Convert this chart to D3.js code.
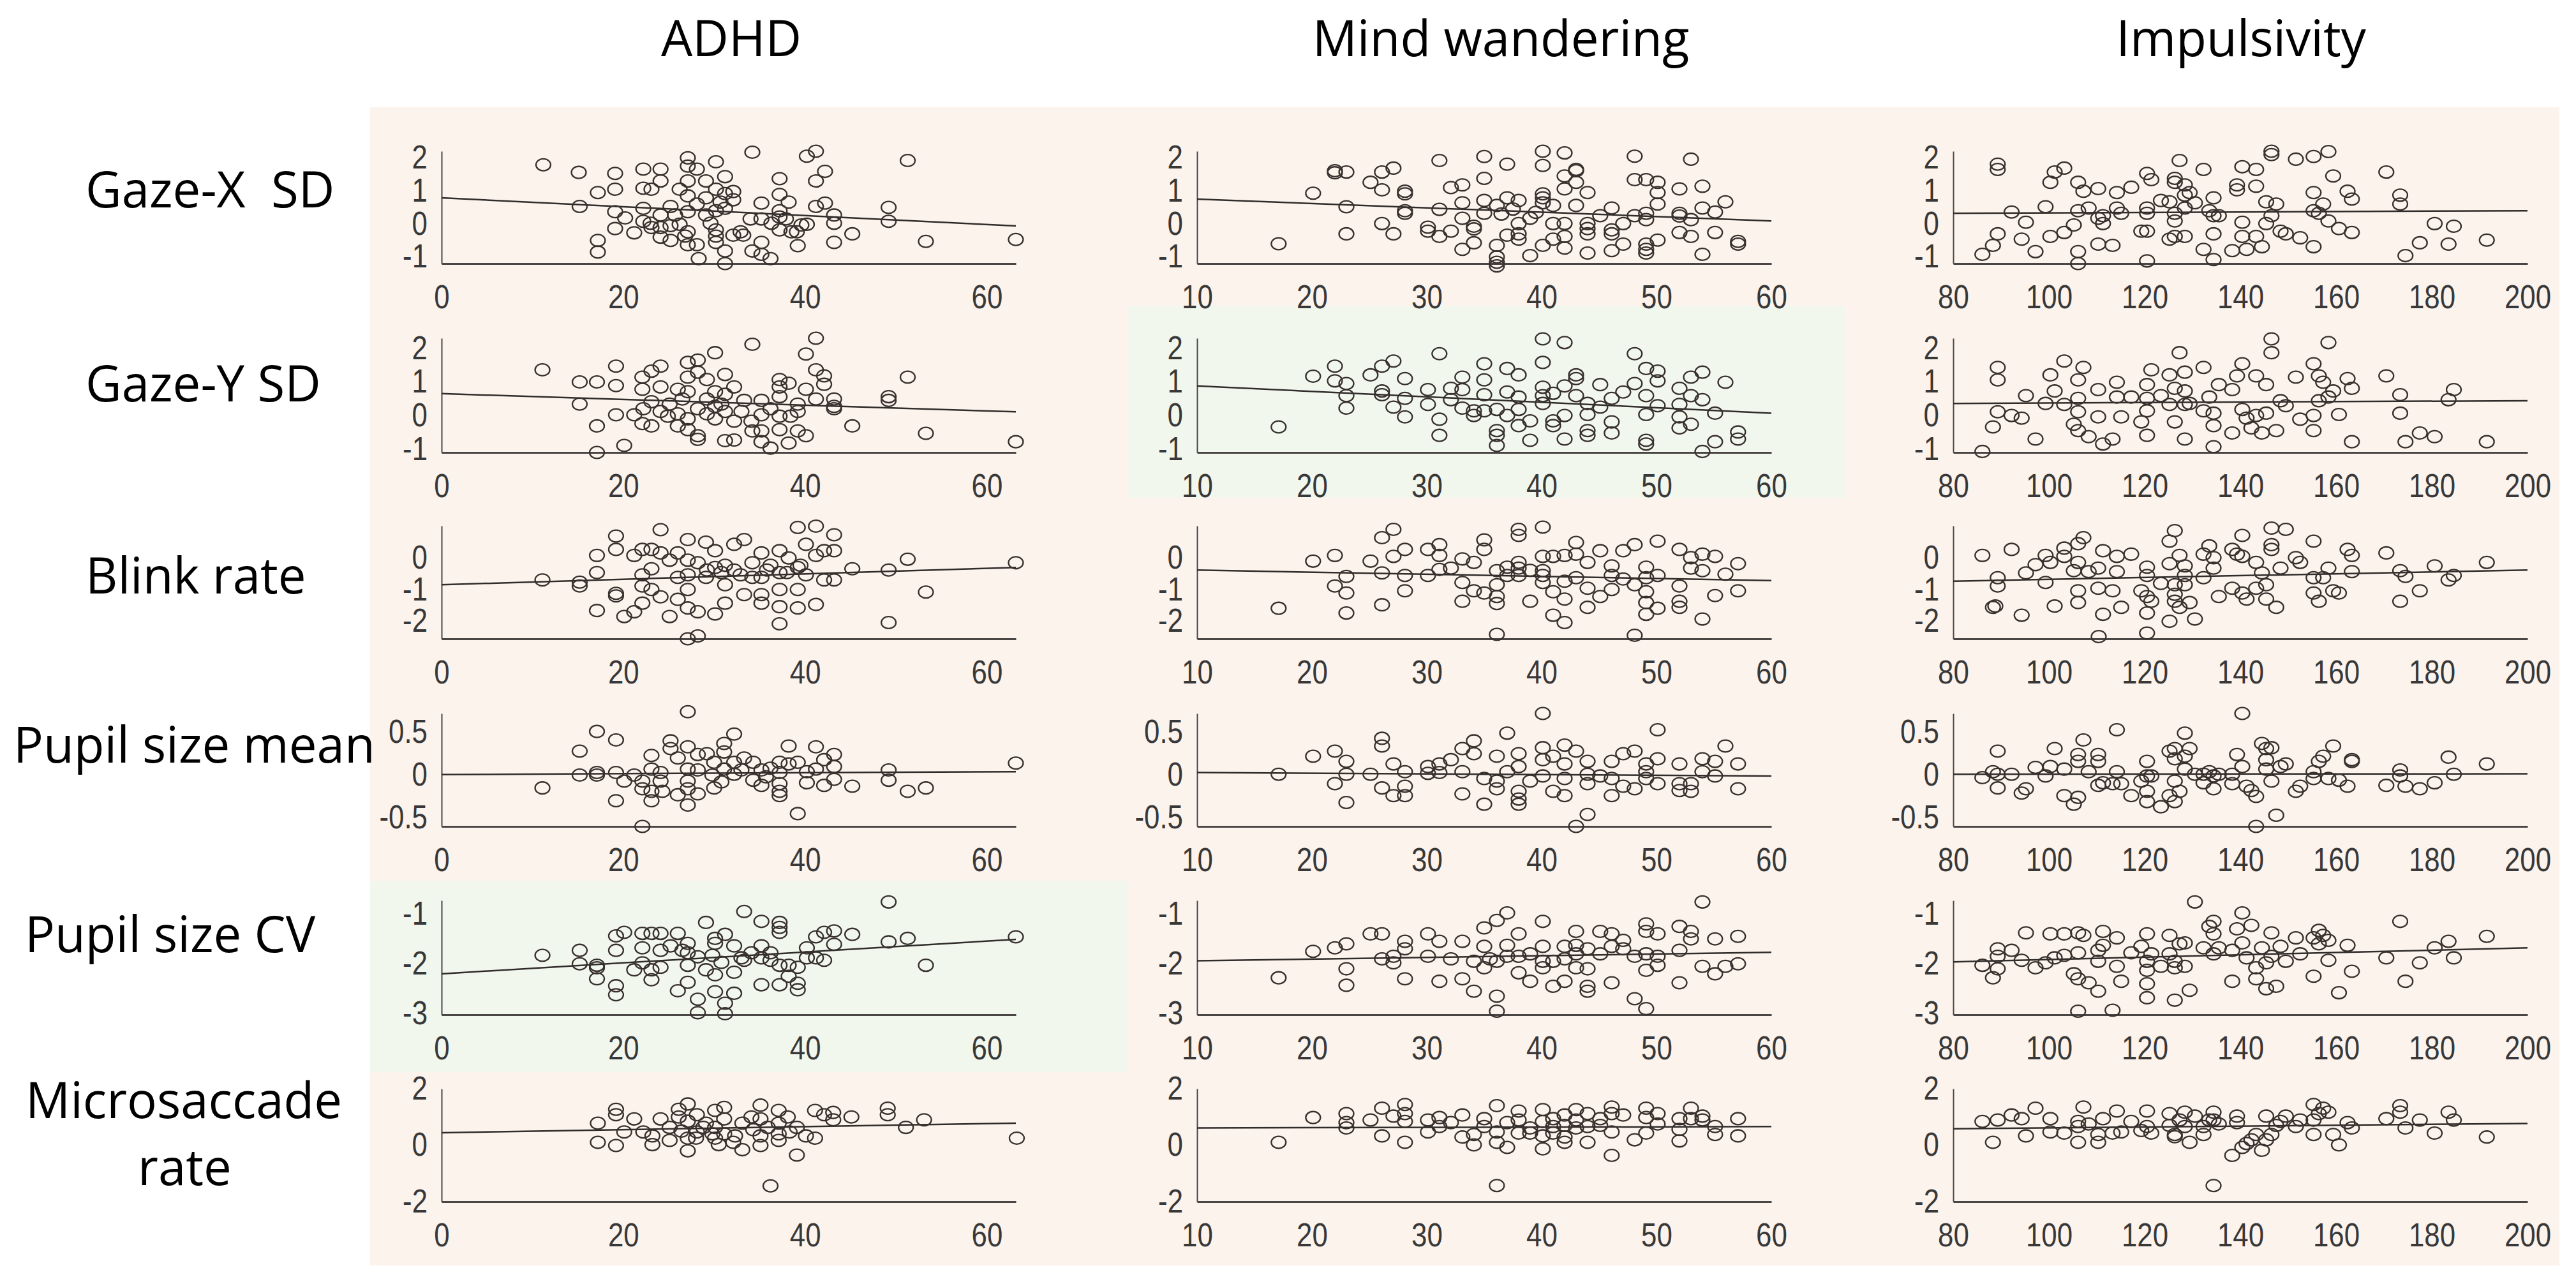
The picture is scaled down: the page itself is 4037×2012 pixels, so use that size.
<!DOCTYPE html>
<html><head><meta charset="utf-8">
<script src="https://cdn.jsdelivr.net/npm/d3@7"></script>
<style>
body{margin:0;background:#fff}
svg{display:block}
.lbl{font-family:"Open Sans","Noto Sans",sans-serif;fill:#000;white-space:pre}
.tick text{font-family:"Liberation Sans",Arial,sans-serif;fill:#383838}
</style></head><body>
<svg id="chart" width="4037" height="2012"></svg>
<script>
// ---------- categories / ticks ----------
const columns = ["ADHD", "Mind wandering", "Impulsivity"];
const rowLabels = [["Gaze-X  SD"], ["Gaze-Y SD"], ["Blink rate"], ["Pupil size mean"], ["Pupil size CV"], ["Microsaccade", "rate"]];
const xDomains = [[0, 63.2], [10, 60], [80, 200]];
const xTicks = [[0, 20, 40, 60], [10, 20, 30, 40, 50, 60], [80, 100, 120, 140, 160, 180, 200]];
const yDomains = [[-1.2, 2.2], [-1.1, 2.3], [-2.55, 1.0], [-0.6, 0.72], [-3.02, -0.73], [-2, 2]];
const yTicks = [[-1, 0, 1, 2], [-1, 0, 1, 2], [-2, -1, 0], [-0.5, 0, 0.5], [-3, -2, -1], [-2, 0, 2]];

// ---------- series: [score, z-value] ----------
const gazeX_ADHD = [[11.2,1.79],[15.1,1.56],[15.2,0.53],[17.2,0.95],[17.2,-0.5],[17.2,-0.85],[19.1,1.53],[19.1,1.05],[19.1,0.37],[19.1,-0.14],[20.2,0.18],[21.2,-0.27],[22.2,1.66],[22.2,1.08],[22.2,0.47],[22.2,0.08],[23.1,1.05],[23.1,-0.11],[23,0.02],[24.1,1.66],[24.1,1.3],[24.1,0.27],[24.1,-0.4],[24.1,-0.11],[25.2,0.53],[25.2,-0.05],[25.2,-0.5],[25.7,0.27],[26.2,1.05],[26.2,-0.01],[26.8,-0.37],[27.1,2.0],[27.1,1.75],[27.1,1.3],[27.1,0.85],[27.1,0.37],[27.1,-0.24],[27.1,-0.63],[28.1,1.66],[28.1,0.6],[28.1,-0.63],[28.3,-1.05],[29.1,1.3],[29.1,0.79],[29.1,0.27],[29.6,0.02],[30.2,1.88],[30.2,1.05],[30.2,0.4],[30.2,-0.18],[30.2,-0.37],[30.2,-0.56],[30.7,0.66],[31.2,1.43],[31.2,0.92],[31.2,0.47],[31.2,-0.82],[31.2,-1.2],[32.1,0.98],[32.1,0.73],[32.1,-0.34],[32.9,-0.24],[33.2,-0.34],[34,0.15],[34.2,2.17],[34.2,-0.82],[35.2,0.63],[35.2,0.15],[35.2,-0.56],[35.2,-0.92],[36.2,-1.05],[36.3,0.02],[37.2,1.37],[37.2,0.89],[37.2,0.4],[37.2,0.21],[37.2,-0.18],[37.9,0.15],[38.2,0.66],[38.5,-0.24],[39.1,-0.24],[39.2,-0.66],[39.6,-0.03],[40.2,2.05],[40.2,-0.01],[41.2,2.2],[41.2,1.3],[41.2,0.53],[42.2,1.59],[42.2,0.63],[43.2,0.27],[43.2,0.02],[43.2,-0.56],[45.2,-0.3],[49.2,0.5],[49.2,0.08],[51.3,1.92],[53.3,-0.53],[63.2,-0.47]];
const gazeY_ADHD = [[11.1,1.36],[15.2,1.0],[15.2,0.34],[17.1,1.0],[17.1,-0.31],[17.1,-1.1],[19.2,1.47],[19.2,0.89],[19.2,0.02],[20.1,-0.89],[21.2,0.02],[22.1,1.14],[22.1,0.78],[22.1,-0.24],[22.2,0.2],[23.1,1.32],[23.1,0.41],[23.1,-0.31],[24.1,1.47],[24.1,0.85],[24.1,0.12],[24.9,-0.02],[25.1,0.34],[26,0.78],[26,0.05],[26,-0.31],[26.5,0.49],[27.1,1.58],[27.1,1.14],[27.1,0.71],[27.1,-0.1],[27.1,-0.42],[28.2,1.65],[28.2,1.29],[28.2,0.2],[28.2,-0.6],[28.2,-0.71],[29.2,1.07],[29.2,0.49],[29.2,0.05],[30.1,1.87],[30.1,0.71],[30.1,0.27],[30.1,-0.1],[30.8,0.34],[31.2,1.22],[31.2,0.63],[31.2,0.12],[31.2,-0.75],[32.2,0.85],[32.2,-0.17],[32.2,-0.73],[33,0.12],[33.3,0.45],[34.1,-0.17],[34.2,2.12],[34.2,-0.46],[35.2,0.45],[35.2,0.02],[35.2,-0.46],[35.2,-0.78],[36.2,0.2],[36.2,-0.97],[37.2,1.07],[37.2,0.85],[37.2,0.56],[37.2,-0.02],[37.2,-0.42],[38.2,0.96],[38.2,-0.82],[38.4,-0.02],[39.2,0.34],[39.2,0.12],[39.2,-0.46],[40.1,1.83],[40.1,0.78],[40.1,-0.6],[41.2,2.3],[41.2,1.36],[41.2,0.49],[42.1,1.18],[42.1,0.93],[43.2,0.49],[43.2,0.27],[43.2,0.2],[45.2,-0.31],[49.2,0.56],[49.2,0.45],[51.3,1.14],[53.3,-0.53],[63.2,-0.78]];
const blink_ADHD = [[11.1,-0.7],[15.2,-0.77],[15.2,-0.89],[17.1,0.07],[17.1,-0.47],[17.1,-1.66],[19.2,0.68],[19.2,0.26],[19.2,-1.12],[19.2,-1.2],[20.1,-1.85],[21.2,-1.7],[21.2,0.07],[22.1,0.26],[22.1,-0.54],[22.1,-0.89],[22.1,-1.43],[23.1,0.26],[23.1,-0.35],[23.1,-1.0],[24.1,0.88],[24.1,0.15],[24.1,-1.23],[25.1,-0.08],[25.1,-1.85],[26,0.15],[26,-0.62],[26,-1.31],[27.1,0.57],[27.1,-0.08],[27.1,-0.54],[27.1,-1.0],[27.1,-1.58],[27.1,-2.55],[28.2,-2.46],[28.2,-0.16],[28.2,-1.7],[29.1,0.49],[29.1,-0.62],[29.2,-0.39],[30.1,0.22],[30.1,-0.31],[30.1,-1.77],[30.8,-0.47],[31.2,-0.24],[31.2,-0.85],[31.2,-1.43],[32.2,0.42],[32.2,-0.39],[32.9,-0.54],[33.3,0.57],[33.3,-1.16],[34.2,-0.16],[34.2,-0.62],[35.2,0.15],[35.2,-0.62],[35.2,-1.16],[35.2,-1.43],[35.8,-0.39],[36.2,-0.24],[37.2,0.22],[37.2,-0.47],[37.2,-1.0],[37.2,-1.54],[37.2,-2.08],[38.0,-0.47],[38.2,-0.01],[39.2,-0.31],[39.2,-1.0],[39.2,-1.58],[39.2,0.95],[39.5,-0.24],[40.1,0.42],[40.1,-0.54],[41.2,0.99],[41.2,0.07],[41.2,-1.47],[42.1,0.22],[42.1,-0.7],[43.2,0.72],[43.2,0.22],[43.2,-0.7],[45.2,-0.35],[49.2,-0.39],[49.2,-2.04],[51.3,-0.05],[53.3,-1.08],[63.2,-0.16]];
const pupilMean_ADHD = [[11.1,-0.15],[15.2,0.28],[15.2,0.0],[17.1,0.51],[17.1,0.03],[17.1,0.0],[19.2,0.41],[19.2,0.03],[19.2,-0.3],[20.1,-0.07],[21.2,0.0],[22.1,-0.07],[22.1,-0.16],[22.1,-0.6],[23.1,0.23],[23.1,0.07],[23.1,-0.19],[23.1,-0.3],[24.1,0.03],[24.1,-0.07],[24.3,-0.19],[25.2,0.4],[25.2,0.31],[26,0.2],[26,-0.23],[27.1,0.74],[27.1,0.33],[27.1,0.07],[27.1,-0.07],[27.1,-0.16],[27.1,-0.35],[28.2,0.24],[28.2,0.06],[28.2,-0.22],[29.2,0.25],[29.8,0.0],[30,0.15],[30,-0.15],[30.8,-0.08],[31.1,0.37],[31.1,0.27],[31.1,0.07],[32.2,0.48],[32.2,0.15],[32.2,0.01],[33,0.06],[33.3,0.2],[34.3,0.15],[34.3,-0.06],[35.2,0.06],[35.2,-0.12],[35.7,-0.02],[36.2,0.08],[37.2,0.15],[37.2,0.03],[37.2,-0.1],[37.2,-0.19],[37.2,-0.24],[38.2,0.34],[38.2,0.13],[39.2,0.15],[39.2,-0.45],[40.2,0.04],[40.2,-0.09],[41.2,0.33],[41.2,0.07],[42.1,0.18],[42.1,-0.12],[43.2,0.24],[43.2,0.1],[43.2,-0.05],[45.2,-0.13],[49.2,0.06],[49.2,-0.06],[51.3,-0.19],[53.3,-0.15],[63.2,0.14]];
const pupilCV_ADHD = [[11.1,-1.83],[15.2,-1.73],[15.2,-2.0],[17.1,-2.03],[17.1,-2.08],[17.1,-2.3],[19.2,-1.44],[19.2,-1.73],[19.2,-2.44],[19.2,-2.62],[20.1,-1.37],[21.2,-2.12],[22.1,-1.39],[22.1,-1.68],[22.1,-1.98],[23.1,-1.39],[23.1,-2.12],[23.1,-2.32],[24.1,-1.39],[24.1,-1.73],[24.1,-2.07],[25.2,-1.64],[26,-1.39],[26,-2.54],[26.5,-1.73],[27.1,-1.59],[27.1,-1.78],[27.1,-2.03],[27.1,-2.37],[28.2,-2.98],[28.2,-2.71],[28.2,-1.86],[29.1,-1.17],[29.1,-2.12],[29.8,-1.83],[30.1,-1.49],[30.1,-1.59],[30.1,-2.22],[30.1,-2.56],[30.8,-1.97],[31.2,-1.41],[31.2,-2.79],[31.2,-3.0],[32.2,-1.64],[32.2,-2.17],[32.2,-2.59],[33,-1.88],[33.3,-0.95],[33.3,-1.93],[34.1,-1.78],[35.2,-1.15],[35.2,-1.64],[35.2,-1.88],[35.2,-2.42],[36.2,-1.78],[36.2,-1.93],[37.2,-1.17],[37.2,-1.27],[37.2,-1.37],[37.2,-2.03],[37.2,-2.42],[38.2,-2.03],[38.2,-2.25],[39.2,-2.07],[39.2,-2.39],[39.2,-2.52],[40.2,-1.68],[40.2,-1.88],[41.2,-1.46],[41.2,-1.88],[42.1,-1.37],[42.1,-1.93],[43.2,-1.34],[43.2,-1.61],[45.2,-1.41],[49.2,-0.76],[49.2,-1.56],[51.3,-1.49],[53.3,-2.03],[63.2,-1.46]];
const microsacc_ADHD = [[17.2,0.78],[17.2,0.1],[19.2,1.27],[19.2,1.08],[19.2,-0.01],[20.1,0.47],[21.2,0.93],[22.2,0.47],[23.2,0.33],[23.2,0.02],[24.1,0.93],[25.1,0.63],[25.1,0.17],[26.1,1.27],[26.1,1.0],[26.4,0.5],[27.1,1.46],[27.1,0.85],[27.1,0.25],[27.1,-0.2],[28.0,0.25],[28.1,1.08],[28.1,0.47],[28.8,0.63],[29.1,0.78],[29.8,0.4],[30.1,1.23],[30.1,0.63],[30.1,0.25],[30.5,0.02],[31.1,1.34],[31.1,0.93],[31.1,0.4],[32.1,0.1],[32.3,0.33],[33.1,0.78],[33.1,-0.16],[34.1,1.0],[34.3,0.55],[35.1,1.42],[35.1,0.93],[35.1,0.33],[35.1,-0.01],[35.9,0.63],[36.2,-1.44],[37.1,1.23],[37.1,0.78],[37.1,0.4],[37.1,0.17],[38.1,1.0],[38.3,0.47],[39.1,-0.35],[39.1,0.63],[40.1,0.33],[41.1,1.23],[41.1,0.25],[42.1,1.08],[43.1,1.16],[43.1,0.9],[45.1,1.0],[49.1,1.31],[49.1,1.08],[51.1,0.63],[53.1,0.9],[63.3,0.25]];

const gazeX_MW = [[17.1,-0.6],[20.1,0.93],[22.0,1.61],[22.0,1.55],[23.0,1.57],[23.0,0.52],[23.0,-0.3],[25.1,1.26],[26.1,1.57],[26.1,1.03],[26.1,0.01],[27.1,1.69],[27.1,-0.3],[28.1,0.99],[28.1,0.91],[28.1,0.4],[28.1,0.32],[30.1,-0.1],[30.1,-0.22],[31.1,1.92],[31.1,0.44],[31.1,-0.38],[32.1,1.1],[32.1,-0.22],[33.1,1.18],[33.1,0.64],[33.1,0.17],[33.1,-0.77],[34.1,-0.07],[34.1,-0.15],[34.1,-0.57],[35.0,2.04],[35.0,1.38],[35.0,0.71],[35.0,0.32],[36.1,-0.65],[36.1,-1.0],[36.1,-1.16],[36.1,-1.27],[36.1,0.56],[36.5,0.3],[37.0,1.81],[37.0,0.79],[37.0,-0.34],[37.5,0.45],[38.0,0.71],[38.0,0.01],[38.0,-0.3],[38.0,-0.46],[39.0,0.17],[39.0,-0.96],[39.5,0.35],[40.1,2.2],[40.1,1.77],[40.1,0.91],[40.1,0.79],[40.1,0.64],[40.1,-0.65],[41.0,0.56],[41.0,0.01],[41.0,-0.46],[42.0,2.15],[42.0,1.45],[42.0,1.06],[42.0,0.01],[42.0,-0.38],[42.0,-0.73],[43.0,1.65],[43.0,1.61],[43.0,1.26],[43.0,0.56],[44.0,0.95],[44.0,0.01],[44.0,-0.14],[44.0,-0.3],[44.0,-0.88],[45.1,0.25],[46.1,0.48],[46.1,-0.18],[46.1,-0.3],[46.1,-0.81],[47.1,0.01],[47.1,-0.61],[48.1,2.05],[48.1,1.34],[48.1,0.25],[49.1,1.34],[49.1,0.32],[49.1,0.13],[49.1,-0.61],[49.1,-0.77],[49.1,-0.88],[50.1,1.26],[50.1,0.95],[50.1,0.6],[50.1,-0.49],[52.0,1.06],[52.0,0.32],[52.0,0.24],[52.0,-0.26],[53.0,1.96],[53.0,0.13],[53.0,-0.38],[54.0,1.14],[54.0,0.48],[54.0,-0.92],[55.1,0.36],[55.1,-0.26],[56.0,0.67],[57.1,-0.53],[57.1,-0.61]];
const gazeY_MW = [[17.1,-0.34],[20.1,1.17],[22.0,1.47],[22.0,1.03],[23.0,0.95],[23.0,0.59],[23.0,0.22],[25.1,1.21],[26.1,1.47],[26.1,0.73],[26.1,0.62],[27.1,1.62],[27.1,0.25],[28.1,1.1],[28.1,0.51],[28.1,-0.04],[30.1,0.77],[30.1,0.33],[31.1,1.84],[31.1,-0.11],[31.1,-0.59],[32.1,0.81],[32.1,0.47],[33.1,1.14],[33.1,0.77],[33.1,0.22],[34.1,0.14],[34.1,0.0],[35.0,1.54],[35.0,1.06],[35.0,0.62],[35.0,0.14],[36.1,0.18],[36.1,-0.45],[36.1,-0.59],[36.1,-0.89],[37.0,1.4],[37.0,0.7],[37.0,0.0],[38.0,1.21],[38.0,0.55],[38.0,0.18],[38.0,-0.3],[39.0,-0.16],[39.0,-0.74],[40.1,2.28],[40.1,1.58],[40.1,0.84],[40.1,0.59],[40.1,0.36],[41.0,0.66],[41.0,-0.16],[41.0,-0.3],[42.0,2.17],[42.0,0.88],[42.0,0.0],[42.0,-0.7],[43.0,1.21],[43.0,1.1],[43.0,0.59],[44.0,0.36],[44.0,0.03],[44.0,-0.45],[44.0,-0.59],[45.1,0.92],[45.1,0.25],[46.1,0.51],[46.1,-0.19],[46.1,-0.52],[47.1,0.7],[48.1,1.84],[48.1,0.95],[49.1,1.4],[49.1,0.59],[49.1,0.03],[49.1,-0.74],[49.1,-0.85],[50.1,1.32],[50.1,1.03],[50.1,0.29],[52.0,0.81],[52.0,0.33],[52.0,-0.04],[52.0,-0.37],[53.0,1.14],[53.0,0.59],[53.0,-0.26],[54.0,1.29],[54.0,0.47],[54.0,-1.07],[55.1,0.07],[55.1,-0.78],[56.0,0.99],[57.1,-0.49],[57.1,-0.7]];
const blink_MW = [[17.1,-1.59],[20.1,-0.11],[22.0,0.07],[22.0,-0.89],[23.0,-0.59],[23.0,-1.11],[23.0,-1.74],[25.1,-0.11],[26.1,0.63],[26.1,-0.48],[26.1,-1.48],[27.1,0.89],[27.1,0.04],[28.1,0.26],[28.1,-0.56],[28.1,-1.04],[30.1,0.26],[30.1,-0.56],[31.1,0.41],[31.1,0.07],[31.1,-0.37],[32.1,-0.33],[33.1,-0.04],[33.1,-0.78],[33.1,-1.37],[34.1,-0.15],[34.1,-1.04],[35.0,0.56],[35.0,0.26],[35.0,-1.11],[36.1,-0.41],[36.1,-0.85],[36.1,-1.22],[36.1,-1.44],[36.1,-2.41],[37.0,-0.56],[37.0,-0.3],[38.0,0.89],[38.0,0.7],[38.0,-0.15],[38.0,-0.33],[38.0,-0.56],[39.0,-1.37],[39.0,-0.4],[40.1,0.96],[40.1,0.04],[40.1,-0.41],[40.1,-0.56],[40.1,-0.78],[41.0,0.04],[41.0,-1.07],[41.0,-1.81],[42.0,0.07],[42.0,-0.74],[42.0,-1.3],[42.0,-2.04],[43.0,0.48],[43.0,0.11],[43.0,-0.63],[44.0,-0.15],[44.0,-0.96],[44.0,-1.56],[45.1,0.22],[45.1,-1.22],[46.1,-0.26],[46.1,-0.56],[46.1,-1.0],[47.1,0.22],[47.1,-0.67],[48.1,0.41],[48.1,-0.85],[48.1,-2.44],[49.1,-0.3],[49.1,-0.63],[49.1,-1.07],[49.1,-1.41],[49.1,-1.78],[50.1,0.52],[50.1,-0.56],[50.1,-1.59],[52.0,0.26],[52.0,-0.89],[52.0,-1.37],[52.0,-1.56],[53.0,0.0],[53.0,-0.33],[54.0,0.11],[54.0,-0.41],[54.0,-1.93],[55.1,0.04],[55.1,-1.19],[56.0,-0.52],[57.1,-0.19],[57.1,-1.04]];
const pupilMean_MW = [[17.1,0.01],[20.1,0.22],[22.0,0.28],[22.0,-0.1],[23.0,0.16],[23.0,0.01],[23.0,-0.32],[25.1,0.01],[26.1,0.43],[26.1,0.34],[26.1,-0.15],[27.1,0.13],[27.1,-0.24],[28.1,0.04],[28.1,-0.13],[28.1,-0.24],[30.1,0.1],[30.1,0.02],[31.1,0.13],[31.1,0.03],[32.1,0.18],[33.1,0.31],[33.1,0.04],[33.1,-0.22],[34.1,0.4],[34.1,0.25],[35.0,-0.04],[35.0,-0.34],[36.1,0.22],[36.1,-0.07],[36.1,-0.16],[37.0,0.49],[37.0,0.04],[38.0,0.25],[38.0,0.1],[38.0,-0.19],[38.0,-0.28],[38.0,-0.34],[39.0,-0.07],[40.1,0.72],[40.1,0.32],[40.1,0.18],[40.1,-0.01],[41.0,0.22],[41.0,-0.19],[42.0,0.35],[42.0,0.13],[42.0,-0.04],[42.0,-0.24],[43.0,0.28],[43.0,-0.6],[44.0,0.16],[44.0,0.01],[44.0,-0.1],[44.0,-0.46],[45.1,-0.01],[46.1,0.16],[46.1,-0.04],[46.1,-0.24],[47.1,0.25],[47.1,-0.13],[48.1,0.28],[48.1,-0.16],[49.1,0.13],[49.1,0.04],[49.1,-0.04],[50.1,0.53],[50.1,0.19],[50.1,-0.1],[52.0,0.13],[52.0,-0.1],[52.0,-0.18],[53.0,-0.1],[53.0,-0.19],[54.0,0.19],[54.0,0.04],[55.1,0.16],[55.1,-0.01],[56.0,0.34],[57.1,0.13],[57.1,-0.16]];
const pupilCV_MW = [[17.1,-2.28],[20.1,-1.75],[22.0,-1.68],[23.0,-1.6],[23.0,-2.1],[23.0,-2.43],[25.1,-1.4],[26.1,-1.4],[26.1,-1.9],[27.1,-1.85],[27.1,-1.98],[28.1,-1.55],[28.1,-1.7],[28.1,-2.3],[30.1,-1.4],[30.1,-1.85],[31.1,-1.55],[31.1,-2.35],[32.1,-1.9],[33.1,-1.55],[33.1,-2.3],[34.1,-1.95],[34.1,-2.55],[35.0,-1.28],[35.0,-1.65],[35.0,-2.08],[35.5,-1.9],[36.1,-1.13],[36.1,-1.95],[36.1,-2.65],[36.1,-2.95],[37.0,-0.98],[37.0,-1.63],[37.0,-1.85],[38.0,-1.4],[38.0,-1.85],[38.0,-2.18],[39.0,-2.35],[39.0,-1.8],[40.1,-1.15],[40.1,-1.65],[40.1,-1.95],[40.1,-2.08],[41.0,-1.95],[41.0,-2.45],[42.0,-1.65],[42.0,-1.9],[42.0,-2.35],[43.0,-1.35],[43.0,-1.63],[43.0,-1.8],[43.0,-2.08],[44.0,-1.7],[44.0,-2.1],[44.0,-2.45],[44.0,-2.55],[45.1,-1.35],[45.1,-1.8],[46.1,-1.4],[46.1,-1.65],[46.1,-2.38],[47.1,-1.53],[47.1,-1.7],[48.1,-1.85],[48.1,-2.7],[49.1,-1.2],[49.1,-1.35],[49.1,-1.8],[49.1,-2.13],[49.1,-2.9],[50.1,-1.4],[50.1,-1.85],[50.1,-2.03],[52.0,-1.25],[52.0,-1.73],[52.0,-2.38],[53.0,-1.35],[53.0,-1.5],[54.0,-0.76],[54.0,-2.05],[55.1,-1.5],[55.1,-2.2],[56.0,-2.05],[57.1,-1.45],[57.1,-2.0]];
const microsacc_MW = [[17.1,0.1],[20.1,0.98],[23.0,1.12],[23.0,0.8],[23.0,0.61],[25.1,0.89],[26.1,1.31],[26.1,0.33],[27.1,1.03],[28.1,1.44],[28.1,1.12],[28.1,0.84],[28.1,0.1],[30.1,0.89],[30.1,0.47],[31.1,0.98],[31.1,0.66],[32.1,0.8],[33.1,1.07],[33.1,0.29],[34.1,0.38],[34.1,0.01],[35.0,0.94],[35.0,0.66],[36.1,1.4],[36.1,0.47],[36.1,0.1],[36.1,-1.43],[37.0,0.8],[37.0,-0.08],[38.0,1.21],[38.0,0.89],[38.0,0.43],[39.0,0.61],[39.0,0.43],[40.1,1.26],[40.1,0.84],[40.1,0.33],[40.1,-0.13],[41.0,0.94],[41.0,0.43],[41.0,0.66],[42.0,1.07],[42.0,0.7],[42.0,0.29],[42.0,0.1],[43.0,1.26],[43.0,0.89],[43.0,0.61],[44.0,1.12],[44.0,0.66],[44.0,0.1],[45.1,0.94],[45.1,0.7],[46.1,1.35],[46.1,1.12],[46.1,0.47],[46.1,-0.36],[47.1,1.07],[48.1,0.19],[49.1,1.31],[49.1,0.98],[49.1,0.43],[50.1,1.12],[50.1,0.75],[52.0,0.94],[52.0,0.56],[52.0,0.15],[53.0,1.31],[53.0,0.94],[54.0,1.03],[54.0,0.89],[55.1,0.66],[55.1,0.38],[57.1,0.94],[57.1,0.33]];

const gazeX_IMP = [[86.1,-0.92],[88.3,-0.65],[89.3,1.81],[89.3,1.65],[89.3,-0.3],[92.2,0.36],[94.3,-0.46],[95.2,0.05],[97.2,-0.84],[99.3,0.52],[100.3,1.26],[100.3,-0.38],[101.2,1.57],[103.2,1.69],[103.2,-0.26],[105.2,-0.03],[106.1,1.26],[106.1,-0.84],[106.1,-1.2],[106.1,0.4],[107.2,0.99],[108.3,0.48],[110.3,1.07],[110.3,0.17],[110.3,-0.61],[111.3,0.25],[111.3,0.01],[113.3,-0.65],[114.2,0.95],[114.2,0.48],[115.1,0.32],[117.2,1.11],[119.3,-0.22],[120.5,1.53],[120.5,0.48],[120.5,0.32],[120.5,-0.22],[120.5,-1.12],[121.4,1.34],[123.4,0.71],[125.2,0.67],[125.2,-0.46],[126.3,1.38],[126.3,1.26],[126.3,0.32],[126.3,0.09],[126.3,-0.38],[127.3,1.92],[128.4,1.18],[128.4,0.87],[128.4,0.48],[128.4,-0.38],[129.4,0.95],[130.5,0.64],[132.3,1.65],[132.3,-0.77],[133.5,0.4],[134.4,0.79],[134.4,0.25],[134.4,-0.3],[134.4,-1.08],[135.5,0.25],[138.3,-0.81],[139.3,1.18],[139.3,1.03],[140.4,1.73],[140.4,0.05],[140.4,-0.38],[141.3,-0.77],[143.3,1.65],[143.3,1.14],[143.3,-0.38],[144.5,-0.69],[145.4,0.67],[145.4,0.01],[146.5,2.2],[146.5,2.1],[146.5,0.25],[147.5,0.6],[148.4,-0.22],[149.5,-0.3],[151.6,1.96],[152.5,-0.42],[155.3,2.04],[155.3,0.95],[155.3,0.4],[155.3,-0.69],[156.4,0.32],[157.3,0.6],[158.4,2.19],[158.4,0.09],[159.4,1.45],[160.6,-0.14],[162.4,0.99],[163.3,0.75],[163.3,-0.26],[170.5,1.57],[173.4,0.87],[173.4,0.6],[174.5,-0.96],[177.5,-0.57],[180.6,0.01],[183.5,-0.61],[184.6,-0.07],[191.5,-0.49]];
const gazeY_IMP = [[86.1,-1.07],[88.3,-0.34],[89.3,1.43],[89.3,1.06],[89.3,0.11],[92.2,0.0],[94.3,-0.08],[95.2,0.59],[97.2,-0.7],[99.3,0.36],[100.3,1.21],[101.2,0.73],[103.2,1.62],[103.2,0.33],[105.2,-0.26],[106.1,1.06],[106.1,0.51],[106.1,0.11],[106.1,-0.45],[107.2,1.43],[108.3,-0.63],[110.3,0.77],[110.3,-0.04],[111.3,-0.85],[113.3,-0.7],[114.2,0.99],[114.2,0.55],[115.1,-0.04],[117.2,0.55],[119.3,-0.19],[120.5,0.92],[120.5,0.51],[120.5,0.14],[120.5,-0.59],[121.4,1.36],[123.4,0.59],[125.2,1.21],[125.2,0.33],[126.3,0.81],[126.3,-0.19],[127.3,1.87],[128.4,1.29],[128.4,0.73],[128.4,0.33],[128.4,-0.7],[129.4,0.36],[132.3,1.43],[132.3,0.14],[133.5,0.55],[134.4,0.07],[134.4,-0.3],[134.4,-0.93],[135.5,0.92],[138.3,0.77],[138.3,-0.52],[139.3,1.18],[140.4,1.54],[140.4,0.18],[141.3,-0.08],[142.3,-0.37],[143.3,1.18],[143.3,0.0],[144.5,-0.52],[145.4,0.92],[145.4,0.07],[146.5,2.28],[146.5,1.87],[147.5,-0.45],[148.4,0.44],[149.5,0.29],[151.6,1.14],[152.5,-0.11],[155.3,1.54],[155.3,0.0],[155.3,-0.45],[156.4,1.18],[156.4,0.44],[157.3,0.99],[158.4,2.17],[158.4,0.55],[159.4,0.73],[160.6,0.03],[162.4,1.1],[163.3,0.81],[163.3,-0.78],[170.5,1.18],[173.4,0.62],[173.4,0.07],[174.5,-0.78],[177.5,-0.52],[180.6,-0.63],[183.5,0.47],[184.6,0.77],[191.5,-0.78]];
const blink_IMP = [[86.1,0.07],[88.3,-1.56],[88.8,-1.52],[89.3,-0.63],[89.3,-0.89],[92.2,0.26],[94.3,-1.81],[95.2,-0.48],[97.2,-0.22],[99.3,0.07],[99.3,-0.78],[100.3,-0.15],[101.2,-1.52],[103.2,0.3],[103.2,0.04],[105.2,-0.41],[106.1,0.44],[106.1,-0.15],[106.1,-1.04],[106.1,-1.41],[107.2,0.63],[108.3,-0.44],[110.3,-0.33],[110.3,-0.96],[110.4,-2.48],[111.3,0.22],[111.3,-1.78],[113.3,-1.04],[114.2,0.04],[114.2,-0.44],[115.1,-1.56],[117.2,0.11],[119.3,-1.04],[120.5,-0.3],[120.5,-0.56],[120.5,-1.22],[120.5,-1.74],[120.5,-2.37],[121.4,-1.37],[123.4,-0.81],[125.2,0.52],[125.2,-0.19],[125.2,-2.0],[126.3,0.85],[126.3,-0.85],[126.3,-1.15],[126.3,-1.37],[127.3,0.07],[127.3,-1.56],[128.4,-0.26],[128.4,-0.56],[128.4,-0.85],[129.4,-1.41],[130.5,-1.93],[132.3,0.11],[132.3,-0.63],[133.5,0.37],[134.4,0.0],[134.4,-0.33],[135.5,-1.22],[138.3,0.26],[138.3,-0.96],[139.3,0.11],[140.4,0.7],[140.4,0.04],[140.4,-1.11],[141.3,-1.3],[143.3,-0.96],[143.3,-0.15],[144.5,-0.48],[145.4,-0.85],[145.4,-1.3],[146.5,0.93],[146.5,0.41],[146.5,0.26],[147.5,-1.56],[148.4,-0.33],[149.5,0.89],[151.6,0.0],[152.5,-0.15],[155.3,0.52],[155.3,-0.63],[155.3,-1.11],[156.4,-1.37],[157.3,-0.63],[158.4,-0.33],[159.4,-1.04],[160.6,-1.11],[162.4,0.26],[163.3,0.07],[163.3,-0.44],[170.5,0.15],[173.4,-0.41],[173.4,-1.37],[174.5,-0.59],[177.5,-1.04],[180.6,-0.26],[183.5,-0.7],[184.6,-0.56],[191.5,-0.15]];
const pupilMean_IMP = [[86.1,-0.03],[88.3,0.04],[89.3,0.28],[89.3,0.01],[89.3,-0.15],[92.2,0.01],[94.3,-0.21],[95.2,-0.16],[97.2,0.09],[99.3,-0.01],[100.3,0.1],[101.2,0.31],[103.2,0.07],[103.2,-0.24],[105.2,-0.34],[106.1,0.24],[106.1,0.16],[106.1,-0.26],[107.2,0.41],[108.3,0.04],[110.3,0.24],[110.3,0.16],[110.3,-0.12],[111.3,-0.09],[113.3,-0.1],[114.2,0.53],[114.2,0.04],[115.1,-0.1],[117.2,-0.24],[119.3,-0.07],[120.5,0.16],[120.5,-0.01],[120.5,-0.19],[120.5,-0.31],[121.4,-0.01],[123.4,-0.37],[125.2,0.28],[125.2,-0.24],[126.3,0.31],[126.3,0.19],[126.3,-0.07],[126.3,-0.31],[127.3,-0.19],[128.4,0.49],[128.4,0.22],[128.4,0.07],[129.4,0.31],[130.5,0.01],[132.3,0.01],[132.3,-0.09],[133.5,0.04],[134.4,-0.01],[134.4,-0.16],[135.5,0.01],[138.3,0.01],[138.3,-0.1],[139.3,0.24],[140.4,0.72],[140.4,0.1],[141.3,-0.13],[142.3,-0.18],[143.3,-0.25],[143.3,-0.6],[144.5,0.37],[145.4,0.31],[145.4,0.18],[145.4,0.07],[146.5,0.32],[146.5,-0.07],[147.5,-0.47],[148.4,0.1],[149.5,0.13],[151.6,-0.19],[152.5,-0.13],[155.3,-0.04],[155.3,0.04],[156.4,0.16],[157.3,0.22],[158.4,-0.04],[159.4,0.34],[160.6,-0.06],[162.4,-0.13],[163.3,0.18],[163.3,0.16],[170.5,-0.12],[173.4,0.06],[173.4,-0.01],[174.5,-0.13],[177.5,-0.16],[180.6,-0.09],[183.5,0.21],[184.6,0.01],[191.5,0.13]];
const pupilCV_IMP = [[86.1,-2.03],[88.3,-2.28],[89.3,-1.7],[89.3,-1.85],[89.3,-2.1],[92.2,-1.73],[94.3,-1.93],[95.2,-1.38],[97.2,-2.08],[99.3,-1.98],[100.3,-1.4],[101.2,-1.88],[103.2,-1.4],[103.2,-1.83],[105.2,-2.2],[106.1,-1.38],[106.1,-1.78],[106.1,-2.3],[106.1,-2.95],[107.2,-1.43],[108.3,-2.38],[110.3,-1.73],[110.3,-1.95],[110.3,-2.55],[111.3,-1.35],[111.3,-1.63],[113.3,-2.93],[114.2,-1.48],[114.2,-2.05],[115.1,-2.35],[117.2,-1.78],[119.3,-1.65],[120.5,-1.4],[120.5,-1.95],[120.5,-2.13],[120.5,-2.4],[120.5,-2.68],[121.4,-1.8],[123.4,-2.05],[125.2,-1.43],[125.2,-1.8],[126.3,-1.95],[126.3,-2.08],[126.3,-2.73],[127.3,-1.6],[128.4,-1.58],[128.4,-2.05],[129.4,-2.53],[130.5,-0.76],[132.3,-1.68],[133.5,-1.25],[134.4,-1.15],[134.4,-1.4],[134.4,-1.8],[135.5,-1.68],[138.3,-1.73],[138.3,-2.35],[139.3,-1.3],[140.4,-0.98],[140.4,-1.58],[141.3,-1.88],[142.3,-1.23],[143.3,-2.08],[143.3,-2.3],[144.5,-1.68],[145.4,-1.98],[145.4,-2.5],[146.5,-1.38],[146.5,-1.85],[147.5,-2.45],[148.4,-1.65],[149.5,-1.95],[151.6,-1.48],[152.5,-1.8],[155.3,-1.48],[155.3,-2.25],[156.4,-1.33],[156.4,-1.6],[157.3,-1.43],[158.4,-1.53],[158.4,-1.93],[160.6,-2.58],[162.4,-1.63],[163.3,-2.15],[170.5,-1.88],[173.4,-1.15],[174.5,-2.35],[177.5,-1.98],[180.6,-1.68],[183.5,-1.55],[184.6,-1.88],[191.5,-1.45]];
const microsacc_IMP = [[86.1,0.84],[88.3,0.1],[89.3,0.89],[92.2,1.07],[94.3,0.94],[95.2,0.33],[97.2,1.31],[100.3,0.94],[100.3,0.47],[103.2,0.43],[106.1,0.84],[106.1,0.66],[106.1,0.1],[107.2,1.35],[108.3,0.75],[110.3,0.38],[110.3,0.1],[111.3,0.94],[113.3,0.43],[114.2,1.21],[115.1,0.47],[117.2,0.84],[119.3,0.52],[120.5,1.21],[120.5,0.66],[121.4,0.43],[125.2,1.12],[125.2,0.7],[126.3,0.38],[126.3,0.3],[127.3,0.89],[128.4,1.17],[128.4,0.66],[129.4,0.1],[130.5,1.03],[132.3,0.66],[132.3,0.38],[133.5,0.89],[134.4,1.17],[134.4,0.89],[134.4,-1.43],[135.5,0.75],[138.3,-0.36],[139.3,1.03],[139.3,0.8],[140.4,-0.08],[141.3,0.06],[142.3,0.19],[143.3,0.38],[144.5,-0.18],[145.4,1.03],[145.4,0.19],[146.5,0.38],[147.5,0.7],[148.4,0.84],[149.5,1.03],[151.6,0.66],[152.5,0.89],[155.3,1.44],[155.3,0.89],[155.3,0.38],[156.4,1.12],[157.3,1.31],[158.4,1.17],[159.4,0.38],[160.6,0.01],[162.4,0.8],[163.3,0.61],[170.5,0.94],[173.4,1.4],[173.4,1.17],[174.5,0.61],[177.5,0.89],[180.6,0.43],[183.5,1.17],[184.6,0.89],[191.5,0.29]];

// fitted least-squares line: value at left and right end of each x axis, per row
const fitADHD = [[0.79,-0.06],[0.65,0.11],[-0.85,-0.31],[0.006,0.04],[-2.2,-1.51],[0.44,0.78]];
const fitMW   = [[0.75,0.09],[0.88,0.07],[-0.39,-0.72],[0.03,-0.01],[-1.94,-1.77],[0.61,0.66]];
const fitIMP  = [[0.32,0.40],[0.36,0.44],[-0.74,-0.39],[0.01,0.015],[-1.96,-1.68],[0.58,0.77]];

// highlighted (green) panels: [row, col]
const highlighted = [[1, 1], [4, 0]];

// ---------- assembly ----------
const series = [
  [gazeX_ADHD, gazeX_MW, gazeX_IMP],
  [gazeY_ADHD, gazeY_MW, gazeY_IMP],
  [blink_ADHD, blink_MW, blink_IMP],
  [pupilMean_ADHD, pupilMean_MW, pupilMean_IMP],
  [pupilCV_ADHD, pupilCV_MW, pupilCV_IMP],
  [microsacc_ADHD, microsacc_MW, microsacc_IMP]
];
const fits = [fitADHD, fitMW, fitIMP];

// ---------- layout ----------
const L = {
  colX: [692, 1876, 3061], axW: 900,
  rowTop: [237, 530, 824, 1118, 1411, 1706],
  rowBot: [413, 709, 1001, 1295, 1590, 1883],
  bg: {x: 580, y: 168, w: 3431, h: 1815},
  cellX: [580, 1766, 2891], cellY: [168, 479, 780, 1080, 1380, 1680, 1983],
  titleX: [1146, 2352, 3512], titleY: 88,
  rowLabelX: [[134], [134], [134], [21], [39], [40, 216]],
  rowLabelY: [[325], [629], [930], [1195], [1492], [1752, 1857]]
};
const C = {peach: "#fcf3ed", green: "#f2f7ee", mark: "#37302d", axis: "#4a4646", fit: "#302c2a"};
const tickFont = 51, narrow = 0.86;

const svg = d3.select("#chart");
svg.append("rect").attr("x", L.bg.x).attr("y", L.bg.y).attr("width", L.bg.w).attr("height", L.bg.h).attr("fill", C.peach);
highlighted.forEach(([r, c]) => {
  svg.append("rect").attr("x", L.cellX[c]).attr("y", L.cellY[r])
    .attr("width", L.cellX[c + 1] - L.cellX[c]).attr("height", L.cellY[r + 1] - L.cellY[r])
    .attr("fill", C.green);
});

// titles and row labels
columns.forEach((t, i) => svg.append("text").attr("class", "lbl").attr("x", L.titleX[i]).attr("y", L.titleY)
  .attr("text-anchor", "middle").attr("font-size", 78).text(t));
rowLabels.forEach((lines, r) => lines.forEach((t, k) => svg.append("text").attr("class", "lbl")
  .attr("x", L.rowLabelX[r][k]).attr("y", L.rowLabelY[r][k]).attr("font-size", 78).text(t)));

for (let r = 0; r < 6; r++) {
  for (let c = 0; c < 3; c++) {
    const x = d3.scaleLinear().domain(xDomains[c]).range([L.colX[c], L.colX[c] + L.axW]);
    const y = d3.scaleLinear().domain(yDomains[r]).range([L.rowBot[r], L.rowTop[r]]);
    const g = svg.append("g");

    // x axis
    const gx = g.append("g").attr("transform", `translate(0,${L.rowBot[r]})`)
      .call(d3.axisBottom(x).tickValues(xTicks[c]).tickSize(0).tickSizeOuter(0).tickPadding(34).tickFormat(d => String(d)));
    gx.select(".domain").attr("stroke", C.axis).attr("stroke-width", 3);
    gx.selectAll(".tick text").attr("font-size", tickFont).attr("transform", `scale(${narrow},1)`);

    // y axis
    const gy = g.append("g").attr("transform", `translate(${L.colX[c]},0)`)
      .call(d3.axisLeft(y).tickValues(yTicks[r]).tickSize(0).tickSizeOuter(0).tickPadding(0).tickFormat(d => String(d)));
    gy.select(".domain").attr("stroke", C.axis).attr("stroke-width", 2);
    gy.selectAll(".tick text").attr("font-size", tickFont).attr("x", -22 / narrow)
      .attr("transform", `scale(${narrow},1)`);

    // fitted line
    const f = fits[c][r];
    g.append("path").datum([[xDomains[c][0], f[0]], [xDomains[c][1], f[1]]])
      .attr("d", d3.line().x(d => x(d[0])).y(d => y(d[1])))
      .attr("stroke", C.fit).attr("stroke-width", 2.5).attr("fill", "none");

    // markers
    g.append("g").selectAll("ellipse").data(series[r][c]).join("ellipse")
      .attr("cx", d => x(d[0])).attr("cy", d => y(d[1]))
      .attr("rx", 11.5).attr("ry", 9.4)
      .attr("fill", "none").attr("stroke", C.mark).attr("stroke-width", 2.3);
  }
}
</script>
</body></html>
